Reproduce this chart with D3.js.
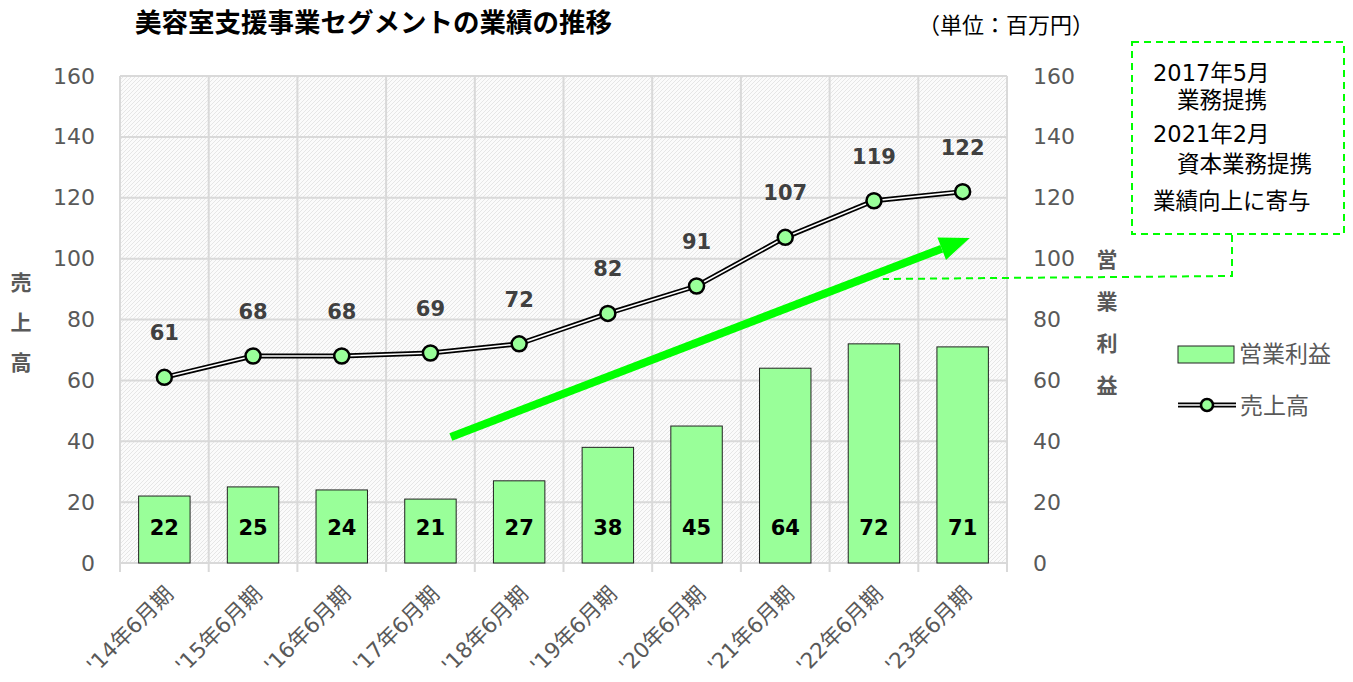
<!DOCTYPE html>
<html>
<head>
<meta charset="utf-8">
<script src="https://cdn.jsdelivr.net/npm/d3@7"></script>
<style>
  body { margin: 0; background: #fff; }
  svg { font-family: "DejaVu Sans", "Noto Sans CJK JP", sans-serif; }
</style>
</head>
<body>
<div id="chart"></div>
<script>
// データ
var categories = ["'14年6月期", "'15年6月期", "'16年6月期", "'17年6月期", "'18年6月期",
                  "'19年6月期", "'20年6月期", "'21年6月期", "'22年6月期", "'23年6月期"];
var sales = [61, 68, 68, 69, 72, 82, 91, 107, 119, 122];      // 売上高
var profit = [22, 25, 24, 21, 27, 38, 45, 64, 72, 71];        // 営業利益
var yTicks = [0, 20, 40, 60, 80, 100, 120, 140, 160];
var noteLines = ["2017年5月", "業務提携", "2021年2月", "資本業務提携", "業績向上に寄与"];

var W = 1353, H = 682;
var plot = {left: 120, right: 1007, top: 76, bottom: 563};
var green = "#00ff00", barFill = "#99ff99", gray = "#595959";
var jp = "'DejaVu Sans', 'Noto Sans CJK JP', sans-serif";

var svg = d3.select("#chart").append("svg")
    .attr("width", W).attr("height", H);

// 背景の斜線パターン
var defs = svg.append("defs");
var pat = defs.append("pattern")
    .attr("id", "hatch").attr("patternUnits", "userSpaceOnUse")
    .attr("width", 4).attr("height", 4);
pat.append("rect").attr("width", 4).attr("height", 4).attr("fill", "#fbfbfb");
pat.append("path").attr("d", "M-1,1 l2,-2 M0,4 l4,-4 M3,5 l2,-2")
    .attr("stroke", "#e6e6e6").attr("stroke-width", 1);

var x = d3.scaleBand()
    .domain(categories)
    .range([plot.left, plot.right])
    .paddingInner(0.42)
    .paddingOuter(0.21);

var y = d3.scaleLinear().domain([0, 160]).range([plot.bottom, plot.top]);

var cx = function(i) { return x(categories[i]) + x.bandwidth() / 2; };

svg.append("rect")
    .attr("x", plot.left).attr("y", plot.top)
    .attr("width", plot.right - plot.left).attr("height", plot.bottom - plot.top)
    .attr("fill", "url(#hatch)");

// グリッド線
svg.append("g").selectAll("line")
    .data(yTicks)
    .enter().append("line")
    .attr("x1", plot.left).attr("x2", plot.right)
    .attr("y1", function(d) { return y(d); }).attr("y2", function(d) { return y(d); })
    .attr("stroke", "#d9d9d9").attr("stroke-width", 2);

var step = x.step();
var bounds = d3.range(categories.length + 1).map(function(i) { return plot.left + i * step; });
svg.append("g").selectAll("line")
    .data(bounds)
    .enter().append("line")
    .attr("x1", function(d) { return d; }).attr("x2", function(d) { return d; })
    .attr("y1", plot.top).attr("y2", plot.bottom + 9)
    .attr("stroke", "#d9d9d9").attr("stroke-width", 2);

// 左軸・右軸
var yAxisL = d3.axisLeft(y).tickValues(yTicks).tickSize(0).tickPadding(25);
svg.append("g")
    .attr("transform", "translate(" + plot.left + ",0)")
    .call(yAxisL)
    .call(function(g) { g.select(".domain").remove(); })
    .selectAll("text")
    .attr("fill", gray).style("font-size", "22px").style("font-family", jp);

var yAxisR = d3.axisRight(y).tickValues(yTicks).tickSize(0).tickPadding(26);
svg.append("g")
    .attr("transform", "translate(" + plot.right + ",0)")
    .call(yAxisR)
    .call(function(g) { g.select(".domain").remove(); })
    .selectAll("text")
    .attr("fill", gray).style("font-size", "22px").style("font-family", jp);

// X軸ラベル
svg.append("g").selectAll("text")
    .data(categories)
    .enter().append("text")
    .attr("transform", function(d, i) { return "translate(" + (cx(i) + 5) + "," + (plot.bottom + 27) + ") rotate(-45)"; })
    .attr("text-anchor", "end")
    .attr("dy", "0.35em")
    .attr("fill", gray)
    .style("font-size", "21.5px")
    .text(function(d) { return d; });

// 棒グラフ
svg.append("g").selectAll("rect")
    .data(profit)
    .enter().append("rect")
    .attr("x", function(d, i) { return x(categories[i]); })
    .attr("y", function(d) { return y(d); })
    .attr("width", x.bandwidth())
    .attr("height", function(d) { return y(0) - y(d); })
    .attr("fill", barFill)
    .attr("stroke", "#222").attr("stroke-width", 1);

svg.append("g").selectAll("text")
    .data(profit)
    .enter().append("text")
    .attr("x", function(d, i) { return cx(i); })
    .attr("y", plot.bottom - 28)
    .attr("text-anchor", "middle")
    .attr("fill", "#000")
    .style("font-family", "Verdana, 'DejaVu Sans', sans-serif")
    .style("font-weight", "bold").style("font-size", "21px")
    .text(function(d) { return d; });

// 売上高の線
var line = d3.line()
    .x(function(d, i) { return cx(i); })
    .y(function(d) { return y(d); });

svg.append("path").datum(sales)
    .attr("d", line).attr("fill", "none")
    .attr("stroke", "#000").attr("stroke-width", 5);
svg.append("path").datum(sales)
    .attr("d", line).attr("fill", "none")
    .attr("stroke", "#fff").attr("stroke-width", 1.6);

svg.append("g").selectAll("circle")
    .data(sales)
    .enter().append("circle")
    .attr("cx", function(d, i) { return cx(i); })
    .attr("cy", function(d) { return y(d); })
    .attr("r", 7.5)
    .attr("fill", barFill)
    .attr("stroke", "#000").attr("stroke-width", 2.5);

svg.append("g").selectAll("text")
    .data(sales)
    .enter().append("text")
    .attr("x", function(d, i) { return cx(i); })
    .attr("y", function(d) { return y(d) - 37; })
    .attr("text-anchor", "middle")
    .attr("fill", "#404040")
    .style("font-family", "Verdana, 'DejaVu Sans', sans-serif")
    .style("font-weight", "bold").style("font-size", "21px")
    .text(function(d) { return d; });

// 緑の矢印
var arrowStart = [3.73, 41.4], arrowEnd = [9.58, 106.8];
var ax1 = plot.left + arrowStart[0] * step, ay1 = y(arrowStart[1]);
var ax2 = plot.left + arrowEnd[0] * step, ay2 = y(arrowEnd[1]);
var ang = Math.atan2(ay2 - ay1, ax2 - ax1), headLen = 30, headW = 12;
var bx = ax2 - headLen * Math.cos(ang), by = ay2 - headLen * Math.sin(ang);
svg.append("line")
    .attr("x1", ax1).attr("y1", ay1).attr("x2", bx).attr("y2", by)
    .attr("stroke", green).attr("stroke-width", 8);
svg.append("path")
    .attr("d", "M" + ax2 + "," + ay2 +
        "L" + (bx + headW * Math.sin(ang)) + "," + (by - headW * Math.cos(ang)) +
        "L" + (bx - headW * Math.sin(ang)) + "," + (by + headW * Math.cos(ang)) + "Z")
    .attr("fill", green);

// タイトル
svg.append("text")
    .attr("x", 135).attr("y", 32)
    .style("font-family", "'Noto Sans CJK JP', sans-serif")
    .style("font-weight", "bold").style("font-size", "26.5px").attr("fill", "#000")
    .text("美容室支援事業セグメントの業績の推移");
svg.append("text")
    .attr("x", 918).attr("y", 33)
    .style("font-family", "'Noto Sans CJK JP', sans-serif")
    .style("font-size", "22px").attr("fill", "#000")
    .text("（単位：百万円）");

// 軸タイトル (縦書き)
svg.append("g").selectAll("text")
    .data("売上高".split(""))
    .enter().append("text")
    .attr("x", 21).attr("y", function(d, i) { return 290 + i * 40; })
    .attr("text-anchor", "middle")
    .attr("fill", gray).style("font-weight", "bold").style("font-size", "21px")
    .style("font-family", "'Noto Sans CJK JP', sans-serif")
    .text(function(d) { return d; });
svg.append("g").selectAll("text")
    .data("営業利益".split(""))
    .enter().append("text")
    .attr("x", 1107).attr("y", function(d, i) { return 267 + i * 42; })
    .attr("text-anchor", "middle")
    .attr("fill", gray).style("font-weight", "bold").style("font-size", "21px")
    .style("font-family", "'Noto Sans CJK JP', sans-serif")
    .text(function(d) { return d; });

// 凡例
var lg = svg.append("g").style("font-family", "'Noto Sans CJK JP', sans-serif");
lg.append("rect").attr("x", 1178).attr("y", 346).attr("width", 56).attr("height", 17)
    .attr("fill", barFill).attr("stroke", "#222").attr("stroke-width", 1);
lg.append("text").attr("x", 1239).attr("y", 362)
    .attr("fill", gray).style("font-size", "23px").text("営業利益");
lg.append("line").attr("x1", 1178).attr("x2", 1236).attr("y1", 405).attr("y2", 405)
    .attr("stroke", "#000").attr("stroke-width", 5);
lg.append("line").attr("x1", 1178).attr("x2", 1236).attr("y1", 405).attr("y2", 405)
    .attr("stroke", "#fff").attr("stroke-width", 1.6);
lg.append("circle").attr("cx", 1207).attr("cy", 405).attr("r", 6)
    .attr("fill", barFill).attr("stroke", "#000").attr("stroke-width", 2.5);
lg.append("text").attr("x", 1240).attr("y", 414)
    .attr("fill", gray).style("font-size", "23px").text("売上高");

// 注記ボックス
var note = svg.append("g");
note.append("rect").attr("x", 1132).attr("y", 42).attr("width", 212).attr("height", 192)
    .attr("fill", "#fff").attr("stroke", green).attr("stroke-width", 2)
    .attr("stroke-dasharray", "7,5");
note.append("path")
    .attr("d", "M1232,235 L1232,276 L" + (plot.left + 8.6 * step) + ",279")
    .attr("fill", "none").attr("stroke", green).attr("stroke-width", 2)
    .attr("stroke-dasharray", "7,5");
var noteX = [1153, 1177, 1153, 1177, 1153];
var noteY = [81, 108, 142, 172, 209];
note.selectAll("text.note")
    .data(noteLines)
    .enter().append("text")
    .attr("class", "note")
    .attr("x", function(d, i) { return noteX[i]; })
    .attr("y", function(d, i) { return noteY[i]; })
    .attr("fill", "#000").style("font-size", "22.5px")
    .text(function(d) { return d; });
</script>
</body>
</html>
